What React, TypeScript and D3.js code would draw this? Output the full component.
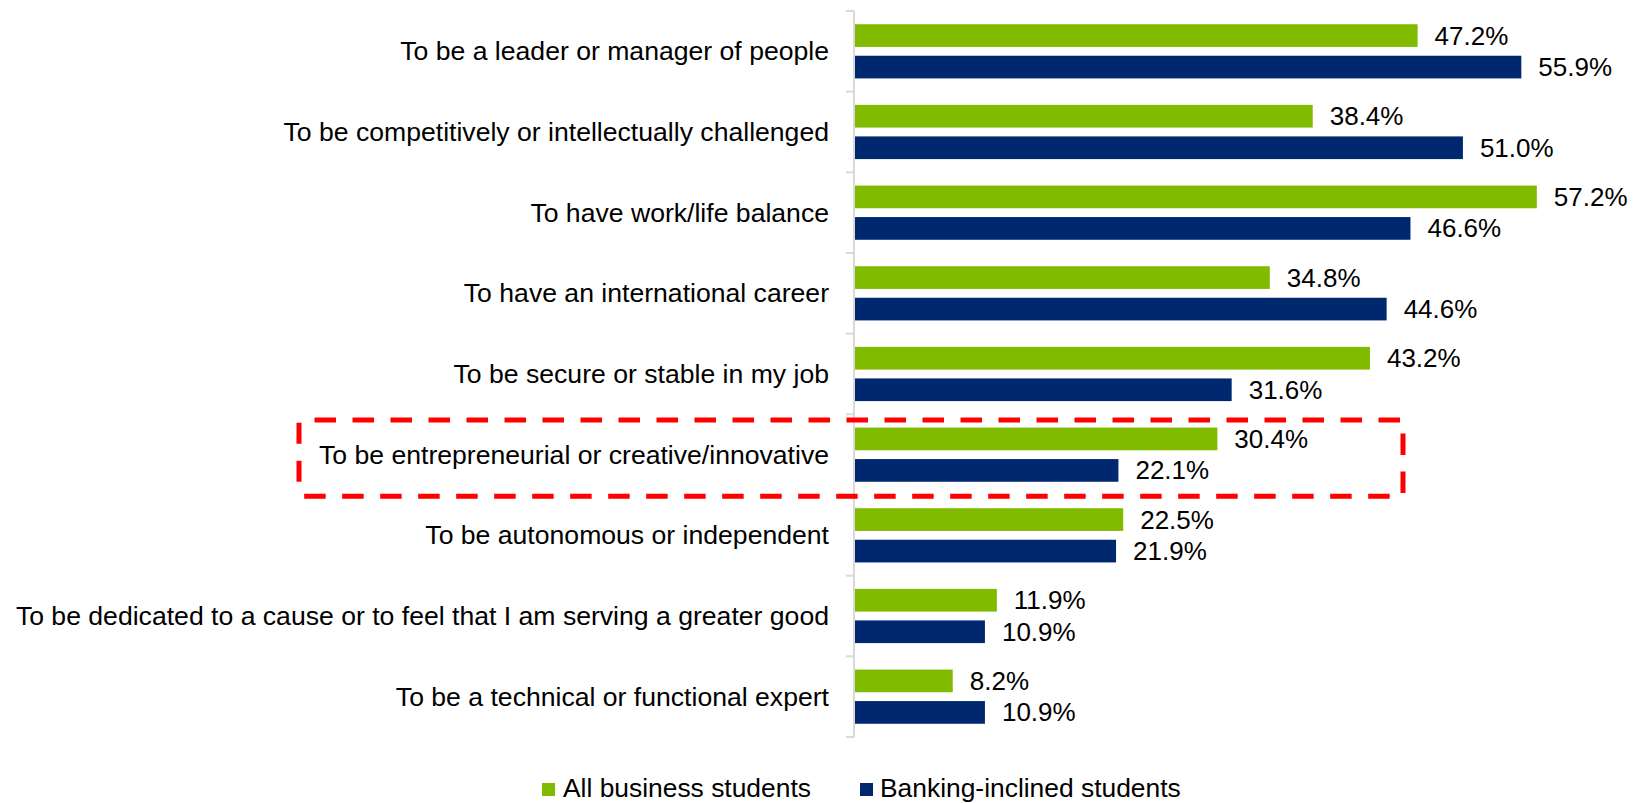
import React from 'react';
import * as d3 from 'd3';

const categories = [
  'To be a leader or manager of people',
  'To be competitively or intellectually challenged',
  'To have work/life balance',
  'To have an international career',
  'To be secure or stable in my job',
  'To be entrepreneurial or creative/innovative',
  'To be autonomous or independent',
  'To be dedicated to a cause or to feel that I am serving a greater good',
  'To be a technical or functional expert',
];
const allStudents = [47.2, 38.4, 57.2, 34.8, 43.2, 30.4, 22.5, 11.9, 8.2];
const bankingStudents = [55.9, 51.0, 46.6, 44.6, 31.6, 22.1, 21.9, 10.9, 10.9];
const seriesNames = ['All business students', 'Banking-inclined students'];
const highlighted = 'To be entrepreneurial or creative/innovative';

const GREEN = '#80BB00';
const BLUE = '#00286E';
const W = 1638;
const H = 803;

export default function App() {
  const x = d3.scaleLinear().domain([0, 60]).range([855, 855 + 60 * 11.92]);
  const y = d3.scaleBand<string>().domain(categories).range([11, 737]).padding(0);
  const inner = d3.scaleBand<string>()
    .domain(seriesNames)
    .range([0, y.bandwidth()])
    .paddingInner(0.28)
    .paddingOuter(0.42);

  const series = [allStudents, bankingStudents];
  const colors = [GREEN, BLUE];
  const boundaries = categories.map((c) => y(c) as number).concat([y.range()[1]]);

  // highlight box around one category
  const hy = y(highlighted) as number;
  const boxTop = hy + 5.7;
  const boxBottom = hy + y.bandwidth() + 1.2;
  const boxLeft = 299;
  const boxRight = 1403;

  return (
    <svg width={W} height={H} style={{ position: 'absolute', left: 0, top: 0, background: '#fff' }}
      fontFamily="'Liberation Sans', Arial, sans-serif">
      {/* axis */}
      <line x1={854} x2={854} y1={y.range()[0]} y2={y.range()[1]} stroke="#d9d9d9" strokeWidth={2} />
      {boundaries.map((b, i) => (
        <line key={i} x1={846} x2={854} y1={b} y2={b} stroke="#d9d9d9" strokeWidth={2} />
      ))}

      {categories.map((c, i) => (
        <g key={c}>
          <text x={829} y={(y(c) as number) + y.bandwidth() / 2} textAnchor="end"
            dominantBaseline="central" fontSize={26.6} fill="#000">{c}</text>
          {series.map((vals, s) => {
            const by = (y(c) as number) + (inner(seriesNames[s]) as number);
            return (
              <g key={s}>
                <rect x={x(0)} y={by} width={x(vals[i]) - x(0)} height={inner.bandwidth()} fill={colors[s]} />
                <text x={x(vals[i]) + 17} y={by + inner.bandwidth() / 2} dominantBaseline="central"
                  fontSize={26} fill="#000">{vals[i].toFixed(1)}%</text>
              </g>
            );
          })}
        </g>
      ))}

      {/* red dashed highlight */}
      <path d={`M${boxLeft},${boxTop}H${boxRight}V${boxBottom}H${boxLeft}`} fill="none" stroke="#ff0000"
        strokeWidth={5} strokeDasharray="21.5 16.5" strokeDashoffset={22.5} />
      <line x1={boxLeft} x2={boxLeft} y1={boxBottom} y2={boxTop} stroke="#ff0000" strokeWidth={5}
        strokeDasharray="0 14.5 21 17 21 40" />

      {/* legend */}
      <rect x={542} y={783} width={13} height={13} fill={GREEN} />
      <text x={563} y={797} fontSize={26.4}>{seriesNames[0]}</text>
      <rect x={860} y={783} width={13} height={13} fill={BLUE} />
      <text x={880} y={797} fontSize={26.4}>{seriesNames[1]}</text>
    </svg>
  );
}
